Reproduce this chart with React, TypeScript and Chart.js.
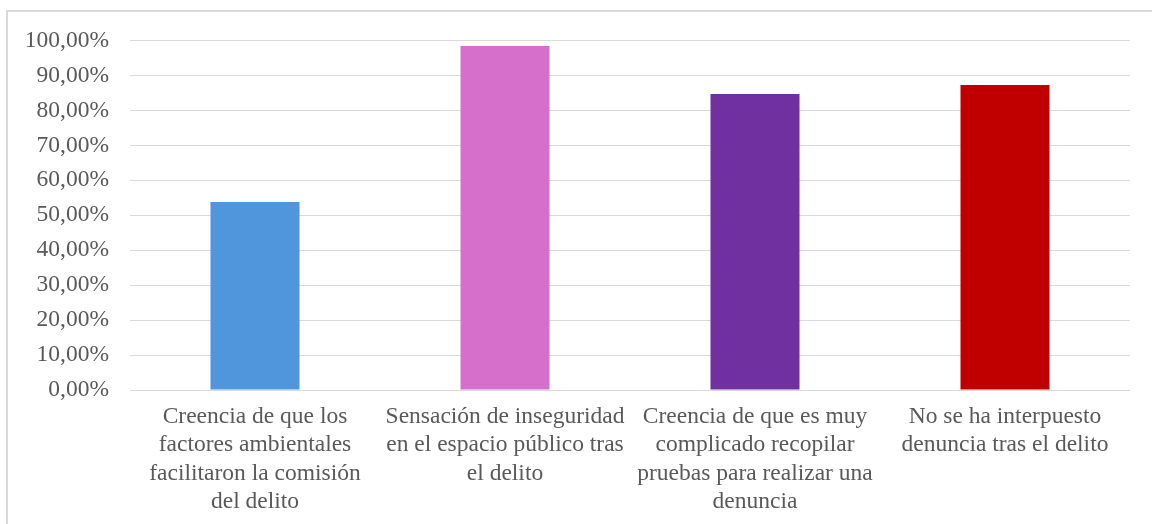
import React, { useEffect, useRef } from "react";
import { Chart, registerables } from "chart.js";

Chart.register(...registerables);

const categories: string[][] = [
  ["Creencia de que los", "factores ambientales", "facilitaron la comisión", "del delito"],
  ["Sensación de inseguridad", "en el espacio público tras", "el delito"],
  ["Creencia de que es muy", "complicado recopilar", "pruebas para realizar una", "denuncia"],
  ["No se ha interpuesto", "denuncia tras el delito"],
];
const values: number[] = [53.8, 98.4, 84.7, 87.3];
const barColors: string[] = ["#5096DC", "#D66FCB", "#7030A0", "#C00000"];
const yMin = 0;
const yMax = 100;
const yStep = 10;

const FONT = "Liberation Serif";

export default function App() {
  const ref = useRef<HTMLCanvasElement | null>(null);
  useEffect(() => {
    let chart: Chart | null = null;
    let cancelled = false;
    const make = () => {
      if (cancelled || !ref.current) return;
      chart = new Chart(ref.current, {
        type: "bar",
        data: {
          labels: categories,
          datasets: [
            {
              data: values,
              backgroundColor: barColors,
              borderWidth: 0,
              categoryPercentage: 1,
              barPercentage: 0.356,
            },
          ],
        },
        options: {
          animation: false,
          responsive: false,
          maintainAspectRatio: false,
          devicePixelRatio: 1,
          layout: { padding: { left: 0, top: 40.5, right: 22, bottom: 0 } },
          plugins: { legend: { display: false }, tooltip: { enabled: false } },
          scales: {
            x: {
              grid: { display: false, drawTicks: false },
              border: { display: false },
              ticks: {
                color: "#595959",
                font: { family: FONT, size: 23.5, lineHeight: 1.2 },
                padding: 13,
                maxRotation: 0,
                autoSkip: false,
              },
              afterFit: (s: any) => {
                s.height = 134;
              },
            },
            y: {
              min: yMin,
              max: yMax,
              grid: { color: "#d9d9d9", lineWidth: 1, drawTicks: false },
              border: { display: false },
              ticks: {
                stepSize: yStep,
                color: "#595959",
                padding: 21,
                font: { family: FONT, size: 23.5 },
                callback: (v: any) => Number(v).toFixed(2).replace(".", ",") + "%",
              },
              afterFit: (s: any) => {
                s.width = 130;
              },
            },
          },
        },
      });
    };
    const fonts: any = (document as any).fonts;
    if (fonts && fonts.load) {
      fonts.load("23.5px 'Liberation Serif'").then(make, make);
    } else {
      make();
    }
    return () => {
      cancelled = true;
      if (chart) chart.destroy();
    };
  }, []);
  return (
    <div
      style={{
        position: "fixed",
        left: 0,
        top: 0,
        width: 1152,
        height: 524,
        overflow: "hidden",
        background: "#fff",
      }}
    >
      <div
        style={{
          position: "absolute",
          left: 6,
          top: 10,
          width: 1200,
          height: 600,
          border: "2px solid #d9d9d9",
          boxSizing: "border-box",
        }}
      />
      <canvas
        ref={ref}
        width={1152}
        height={524}
        style={{ position: "absolute", left: 0, top: 0, width: 1152, height: 524 }}
      />
    </div>
  );
}
